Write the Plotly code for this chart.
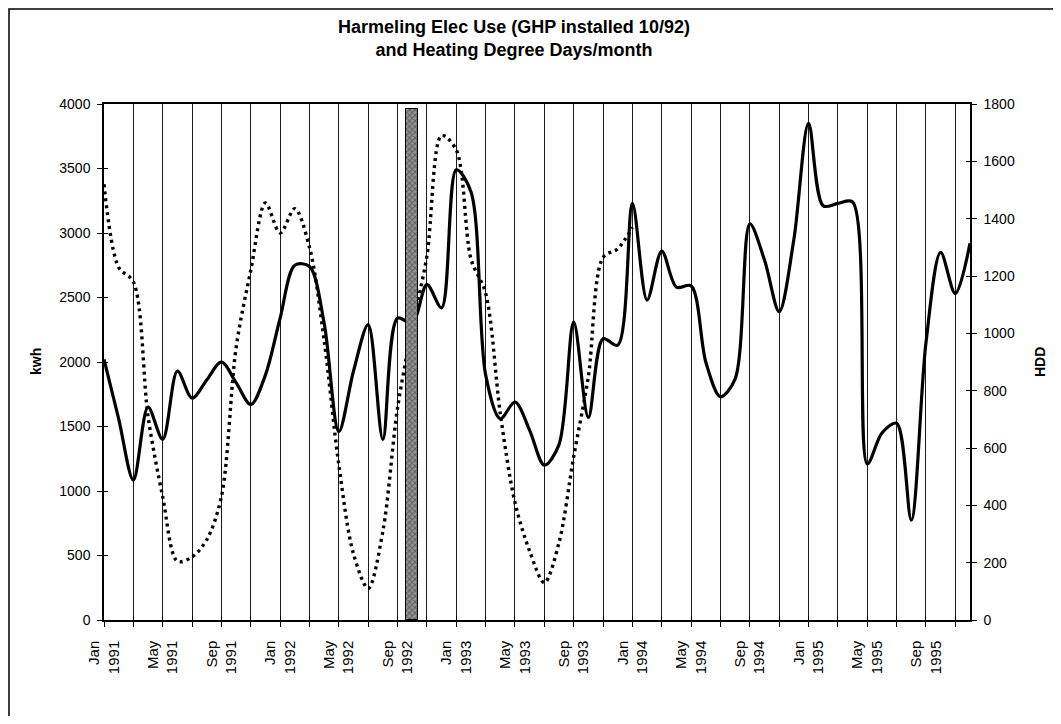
import plotly.graph_objects as go

MONTH_ABBR = ["Jan", "Feb", "Mar", "Apr", "May", "Jun",
              "Jul", "Aug", "Sep", "Oct", "Nov", "Dec"]
YEARS = [1991, 1992, 1993, 1994, 1995]
months = [f"{m} {y}" for y in YEARS for m in MONTH_ABBR]

# Electricity use, kwh per month (Jan 1991 - Dec 1995)
kwh = [2020, 1560, 1085, 1650, 1400, 1930, 1720, 1860, 2000, 1840, 1670, 1900,
       2340, 2750, 2740, 2300, 1460, 1930, 2290, 1400, 2340, 2300, 2600, 2420,
       3490, 3320, 1900, 1560, 1690, 1470, 1200, 1360, 2310, 1570, 2180, 2130,
       3230, 2480, 2860, 2580, 2590, 2000, 1730, 1870, 3070, 2790, 2390, 2950,
       3850, 3210, 3230, 3240, 1210, 1450, 1525, 775, 2150, 2850, 2530, 2920]

# Heating degree days per month (Jan 1991 - Jan 1994)
hdd = [1520, 1230, 1180, 710, 430, 205, 220, 280, 430, 950, 1220, 1455,
       1350, 1435, 1300, 975, 540, 230, 110, 310, 740, 1020, 1270, 1690,
       1640, 1260, 1140, 720, 410, 240, 130, 270, 570, 850, 1265, 1295,
       1370]

# GHP installation marker (10/92)
install_month = ["Oct 1992"]
install_bar = [3960]

TICK_LABELS = ["Jan<br>1991", "May<br>1991", "Sep<br>1991",
               "Jan<br>1992", "May<br>1992", "Sep<br>1992",
               "Jan<br>1993", "May<br>1993", "Sep<br>1993",
               "Jan<br>1994", "May<br>1994", "Sep<br>1994",
               "Jan<br>1995", "May<br>1995", "Sep<br>1995"]

KWH_RANGE = [0, 4000]
HDD_RANGE = [0, 1800]

FONT = "Liberation Sans, Arial, sans-serif"

# page offset of the browser (body margin); keep figure inside the window
OFF = 8
W, H = 1061 - 2 * OFF, 724 - 2 * OFF
PLOT_L, PLOT_R, PLOT_T, PLOT_B = 104 - OFF, 970 - OFF, 104 - OFF, 620 - OFF

tickvals = months[::2]
ticktext = [TICK_LABELS[i // 2] if i % 2 == 0 else "" for i in range(len(tickvals))]

fig = go.Figure()

fig.add_trace(go.Scatter(
    x=months, y=kwh, mode="lines", name="kwh",
    line=dict(color="black", width=3.2, shape="spline", smoothing=0.9),
    yaxis="y", hoverinfo="x+y"))

fig.add_trace(go.Scatter(
    x=months[:len(hdd)], y=hdd, mode="lines", name="HDD",
    line=dict(color="black", width=3.4, shape="spline", smoothing=0.9, dash="3px,4px"),
    yaxis="y2", hoverinfo="x+y"))

# invisible helpers so the crossing-tick axes are drawn
fig.add_trace(go.Scatter(x=[months[0]], y=[0], xaxis="x3", yaxis="y", mode="markers",
                         marker=dict(opacity=0), showlegend=False, hoverinfo="skip"))
fig.add_trace(go.Scatter(x=[months[0]], y=[0], yaxis="y3", mode="markers",
                         marker=dict(opacity=0), showlegend=False, hoverinfo="skip"))
fig.add_trace(go.Scatter(x=[months[0]], y=[0], yaxis="y4", mode="markers",
                         marker=dict(opacity=0), showlegend=False, hoverinfo="skip"))

fig.add_trace(go.Bar(
    x=install_month, y=install_bar, width=0.85, yaxis="y5",
    marker=dict(color="#7a7a7a",
                pattern=dict(shape="x", fgcolor="#222222", bgcolor="#959595",
                             size=4, solidity=0.45),
                line=dict(color="black", width=1)),
    showlegend=False, hoverinfo="x+y"))

fig.update_layout(
    width=W, height=H,
    margin=dict(l=PLOT_L, r=W - PLOT_R, t=PLOT_T, b=H - PLOT_B),
    paper_bgcolor="white", plot_bgcolor="white",
    showlegend=False,
    font=dict(family=FONT, color="black", size=13),
    title=dict(
        text="<b>Harmeling Elec Use (GHP installed 10/92)<br>and Heating Degree Days/month</b>",
        x=(514 - OFF) / W, xanchor="center", xref="container",
        y=1 - (33 - OFF) / H, yanchor="top", yref="container",
        font=dict(family=FONT, size=18, color="black")),
    xaxis=dict(
        type="category", categoryorder="array", categoryarray=months,
        range=[0, len(months) - 1],
        tickmode="array", tickvals=tickvals, ticktext=ticktext,
        tickangle=-90, tickfont=dict(size=15, family=FONT), ticklabelstandoff=8,
        ticks="outside", ticklen=5, tickwidth=1, tickcolor="black",
        showgrid=True, gridcolor="#1a1a1a", gridwidth=1,
        showline=True, linecolor="black", linewidth=1.5, mirror=True,
        zeroline=False, fixedrange=True),
    xaxis3=dict(
        type="category", categoryorder="array", categoryarray=months,
        range=[0, len(months) - 1], overlaying="x", anchor="y", side="bottom",
        tickmode="array", tickvals=tickvals, showticklabels=False,
        ticks="inside", ticklen=4, tickwidth=1, tickcolor="black",
        showgrid=False, showline=False, zeroline=False),
    yaxis=dict(
        range=KWH_RANGE, dtick=500, tickformat="d",
        ticks="outside", ticklen=5, tickwidth=1, tickcolor="black",
        tickfont=dict(size=14, family=FONT), ticklabelstandoff=4,
        showgrid=False, zeroline=False,
        showline=True, linecolor="black", linewidth=1.5),
    yaxis2=dict(
        range=HDD_RANGE, dtick=200, tickformat="d", overlaying="y", side="right",
        anchor="x",
        ticks="outside", ticklen=5, tickwidth=1, tickcolor="black",
        tickfont=dict(size=14, family=FONT), ticklabelstandoff=4,
        showgrid=False, zeroline=False,
        showline=True, linecolor="black", linewidth=1.5),
    yaxis3=dict(
        range=KWH_RANGE, dtick=500, overlaying="y", side="left", anchor="x",
        ticks="inside", ticklen=4, tickwidth=1, tickcolor="black",
        showticklabels=False, showgrid=False, zeroline=False, showline=False),
    yaxis4=dict(
        range=HDD_RANGE, dtick=200, overlaying="y", side="right", anchor="x",
        ticks="inside", ticklen=4, tickwidth=1, tickcolor="black",
        showticklabels=False, showgrid=False, zeroline=False, showline=False),
    yaxis5=dict(
        range=KWH_RANGE, overlaying="y", visible=False, anchor="x"),
    bargap=0,
)


def px_x(p):
    return (p - OFF - PLOT_L) / (PLOT_R - PLOT_L)


def px_y(p):
    return (PLOT_B - (p - OFF)) / (PLOT_B - PLOT_T)


fig.add_annotation(text="<b>kwh</b>", x=px_x(36), y=px_y(362), xref="paper", yref="paper",
                   xanchor="center", yanchor="middle",
                   textangle=-90, showarrow=False, font=dict(size=14, family=FONT))
fig.add_annotation(text="<b>HDD</b>", x=px_x(1040), y=px_y(362), xref="paper", yref="paper",
                   xanchor="center", yanchor="middle",
                   textangle=-90, showarrow=False, font=dict(size=14, family=FONT))

# outer chart frame (only top and left edges fall inside the page)
fig.add_shape(type="rect", xref="paper", yref="paper",
              x0=px_x(9), x1=px_x(1100), y0=px_y(760), y1=px_y(9),
              line=dict(color="black", width=1.5), fillcolor="rgba(0,0,0,0)", layer="below")

fig.write_html("out.html")
